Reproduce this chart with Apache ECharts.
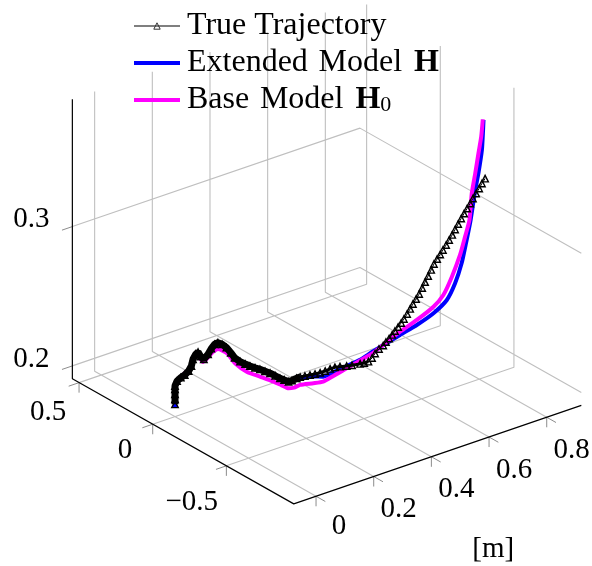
<!DOCTYPE html>
<html>
<head>
<meta charset="utf-8">
<style>
  html, body { margin: 0; padding: 0; background: #fff; }
  #chart { width: 592px; height: 566px; }
</style>
<script src="https://cdn.jsdelivr.net/npm/echarts@6/dist/echarts.min.js"></script>
</head>
<body>
<div id="chart"></div>
<script>
// axis limits and ticks
var xRange = [-0.0773, 0.92];
var yRange = [-0.9575, 0.5455];
var zRange = [0.1907, 0.3915];
var xTicks = [0, 0.2, 0.4, 0.6, 0.8];
var yTicks = [-0.5, 0, 0.5];
var zTicks = [0.2, 0.3];
var xTickLabels = ['0', '0.2', '0.4', '0.6', '0.8'];
var yTickLabels = ['\u22120.5', '0', '0.5'];
var zTickLabels = ['0.2', '0.3'];

// true trajectory
var trueX = [0, 0, 0, 0, 0, 0.005, 0.015, 0.025, 0.035, 0.042, 0.046, 0.053, 0.059, 0.066, 0.074, 0.085, 0.093, 0.102, 0.110, 0.121, 0.132, 0.143, 0.153, 0.167, 0.180, 0.192, 0.205, 0.218, 0.231, 0.244, 0.257, 0.269, 0.280, 0.291, 0.300, 0.312, 0.321, 0.333, 0.346, 0.359, 0.372, 0.385, 0.398, 0.410, 0.423, 0.440, 0.454, 0.475, 0.485, 0.496, 0.505, 0.513, 0.523, 0.534,
  0.541, 0.549, 0.557, 0.564, 0.572, 0.580, 0.587, 0.595, 0.603, 0.610, 0.618, 0.626, 0.634, 0.641, 0.649, 0.657, 0.664, 0.672, 0.680, 0.687, 0.695, 0.703, 0.711, 0.718, 0.726, 0.734, 0.741, 0.749, 0.757, 0.764, 0.772, 0.780, 0.787, 0.795];
var trueY = [0, 0, 0, 0, 0, -0.004, -0.010, -0.017, -0.024, -0.029, -0.032, -0.037, -0.041, -0.045, -0.051, -0.058, -0.064, -0.070, -0.076, -0.083, -0.091, -0.099, -0.106, -0.115, -0.124, -0.133, -0.142, -0.150, -0.159, -0.168, -0.177, -0.186, -0.193, -0.201, -0.207, -0.215, -0.221, -0.230, -0.239, -0.248, -0.257, -0.266, -0.274, -0.283, -0.292, -0.304, -0.313, -0.327, -0.335, -0.342, -0.349, -0.354, -0.361, -0.368,
  -0.373, -0.379, -0.384, -0.389, -0.395, -0.400, -0.405, -0.411, -0.416, -0.421, -0.427, -0.432, -0.437, -0.443, -0.448, -0.453, -0.458, -0.464, -0.469, -0.474, -0.480, -0.485, -0.490, -0.496, -0.501, -0.506, -0.512, -0.517, -0.522, -0.527, -0.533, -0.538, -0.543, -0.549];
var trueZ = [0.1995, 0.2031, 0.2067, 0.2103, 0.2127, 0.2161, 0.2182, 0.2198, 0.2224, 0.2258, 0.2305, 0.2339, 0.2353, 0.2318, 0.2296, 0.2329, 0.2367, 0.2396, 0.2405, 0.2390, 0.2363, 0.2323, 0.2284, 0.2252, 0.2231, 0.2213, 0.2197, 0.2182, 0.2164, 0.2146, 0.2124, 0.2102, 0.2087, 0.2071, 0.2077, 0.2089, 0.2096, 0.2100, 0.2103, 0.2106, 0.2112, 0.2120, 0.2131, 0.2139, 0.2140, 0.2140, 0.2141, 0.2144, 0.2148, 0.2154, 0.2178, 0.2208, 0.2237, 0.2259,
  0.2282, 0.2305, 0.2328, 0.2354, 0.2381, 0.2407, 0.2433, 0.2467, 0.2501, 0.2534, 0.2568, 0.2601, 0.2642, 0.2683, 0.2724, 0.2765, 0.2805, 0.2839, 0.2869, 0.2899, 0.2933, 0.2966, 0.3000, 0.3037, 0.3074, 0.3111, 0.3145, 0.3179, 0.3212, 0.3246, 0.3280, 0.3313, 0.3347, 0.3380];

// extended model H
var extX = [0, 0, 0.025, 0.042, 0.053, 0.059, 0.074, 0.093, 0.110, 0.132, 0.153, 0.192, 0.244, 0.291, 0.321, 0.354, 0.380, 0.398, 0.440, 0.475, 0.505, 0.539, 0.577, 0.620, 0.663, 0.697, 0.718, 0.735, 0.746, 0.758, 0.770, 0.778, 0.787, 0.790, 0.791];
var extY = [0, 0, -0.017, -0.029, -0.037, -0.041, -0.051, -0.064, -0.076, -0.091, -0.106, -0.133, -0.168, -0.201, -0.221, -0.244, -0.262, -0.274, -0.304, -0.327, -0.349, -0.372, -0.398, -0.428, -0.457, -0.481, -0.496, -0.507, -0.515, -0.523, -0.531, -0.537, -0.543, -0.545, -0.546];
var extZ = [0.1969, 0.2127, 0.2198, 0.2258, 0.2339, 0.2353, 0.2296, 0.2367, 0.2405, 0.2363, 0.2284, 0.2213, 0.2146, 0.2071, 0.2089, 0.2090, 0.2081, 0.2095, 0.2140, 0.2173, 0.2221, 0.2268, 0.2322, 0.2381, 0.2452, 0.2537, 0.2651, 0.2789, 0.2930, 0.3093, 0.3305, 0.3423, 0.3588, 0.3730, 0.3802];

// base model H0
var baseX = [0, 0, 0.008, 0.023, 0.038, 0.049, 0.059, 0.072, 0.085, 0.097, 0.110, 0.133, 0.154, 0.184, 0.218, 0.252, 0.272, 0.291, 0.305, 0.321, 0.355, 0.380, 0.406, 0.440, 0.475, 0.509, 0.539, 0.577, 0.620, 0.663, 0.688, 0.710, 0.731, 0.744, 0.755, 0.761, 0.770, 0.778, 0.785, 0.789];
var baseY = [0, 0, -0.005, -0.016, -0.027, -0.034, -0.041, -0.050, -0.058, -0.067, -0.076, -0.092, -0.106, -0.127, -0.150, -0.174, -0.188, -0.201, -0.211, -0.221, -0.245, -0.262, -0.280, -0.304, -0.327, -0.351, -0.372, -0.398, -0.428, -0.457, -0.475, -0.490, -0.504, -0.513, -0.521, -0.525, -0.531, -0.537, -0.542, -0.545];
var baseZ = [0.2005, 0.2127, 0.2167, 0.2206, 0.2245, 0.2313, 0.2325, 0.2278, 0.2306, 0.2342, 0.2360, 0.2322, 0.2244, 0.2175, 0.2129, 0.2083, 0.2053, 0.2024, 0.2025, 0.2039, 0.2041, 0.2045, 0.2078, 0.2123, 0.2168, 0.2215, 0.2273, 0.2345, 0.2417, 0.2499, 0.2576, 0.2701, 0.2850, 0.2978, 0.3094, 0.3284, 0.3425, 0.3566, 0.3683, 0.3807];

var serifFont = '"Liberation Serif", serif';

// orthographic view of the box onto the page
function project(x, y, z) {
  return [
    175 + 288.35 * x - 147.3 * y,
    416.6 - 98.75 * x - 83.2 * y - 1393 * (z - zRange[0])
  ];
}

function path(xs, ys, zs) {
  return xs.map(function (x, i) {
    return project(x, ys[i], zs[i]);
  });
}

// polylines split by null gaps, for the line series below
function polylines(list) {
  var out = [];
  list.forEach(function (pts) {
    pts.forEach(function (p) {
      out.push(project(p[0], p[1], p[2]));
    });
    out.push([null, null]);
  });
  return out;
}

var xMin = xRange[0], xMax = xRange[1];
var yMin = yRange[0], yMax = yRange[1];
var zMin = zRange[0], zMax = zRange[1];
var xExt = 0.036, yExt = 0.063, zExt = 0.0072;

var gridLines = [], tickLines = [];
xTicks.forEach(function (x) {
  gridLines.push([[x, yMin, zMin], [x, yMax, zMin], [x, yMax, zMax]]);
  tickLines.push([[x, yMin - yExt, zMin], [x, yMin, zMin], [x, yMin, zMin - zExt]]);
});
yTicks.forEach(function (y) {
  gridLines.push([[xMin, y, zMin], [xMax, y, zMin], [xMax, y, zMax]]);
  tickLines.push([[xMin - xExt, y, zMin], [xMin, y, zMin], [xMin, y, zMin - zExt]]);
});
zTicks.forEach(function (z) {
  gridLines.push([[xMin, yMax, z], [xMax, yMax, z], [xMax, yMin, z]]);
  tickLines.push([[xMin - xExt, yMax, z], [xMin, yMax, z]]);
});

var axisLines = [[[xMin, yMax, zMax], [xMin, yMax, zMin], [xMin, yMin, zMin], [xMax, yMin, zMin]]];

function lineSeries(name, data, color, width) {
  return {
    name: name,
    type: 'line',
    data: data,
    silent: true,
    symbol: 'none',
    connectNulls: false,
    clip: false,
    lineStyle: {color: color, width: width}
  };
}

function label(text, p, offset) {
  return {
    value: p,
    name: text,
    label: {offset: offset}
  };
}

var xOffsets = [[23, 30], [25, 33], [25, 33], [25, 33], [25, 33]];
var yOffsets = [[-34.6, 36.7], [-27.7, 25.7], [-31, 30]];
var zOffsets = [[-41, -7], [-41, -7]];

var labels = [];
xTicks.forEach(function (x, i) {
  labels.push(label(xTickLabels[i], project(x, yMin, zMin), xOffsets[i]));
});
yTicks.forEach(function (y, i) {
  labels.push(label(yTickLabels[i], project(xMin, y, zMin), yOffsets[i]));
});
zTicks.forEach(function (z, i) {
  labels.push(label(zTickLabels[i], project(xMin, yMax, z), zOffsets[i]));
});
labels.push(label('[m]', project(0.5, yMin, zMin), [33, 103]));

var truePath = path(trueX, trueY, trueZ);

var chart = echarts.init(document.getElementById('chart'));
chart.setOption({
  animation: false,
  backgroundColor: '#fff',
  grid: {left: 0, right: 0, top: 0, bottom: 0},
  xAxis: {type: 'value', min: 0, max: 592, show: false},
  yAxis: {type: 'value', min: 0, max: 566, inverse: true, show: false},
  legend: {
    orient: 'vertical',
    left: 132,
    top: 10,
    padding: 0,
    itemWidth: 46,
    itemHeight: 8,
    itemGap: 5,
    data: [
      {name: 'True Trajectory', lineStyle: {color: '#000', width: 1.2}, itemStyle: {borderColor: '#333', borderWidth: 1}},
      {name: 'Extended Model H', lineStyle: {width: 4}, itemStyle: {opacity: 0}},
      {name: 'Base Model H0', lineStyle: {width: 4}, itemStyle: {opacity: 0}}
    ],
    formatter: function (name) {
      if (name === 'Extended Model H') {
        return 'Extended \u200AModel{b|H}';
      }
      if (name === 'Base Model H0') {
        return 'Base \u200AModel{b|H}{s|0}';
      }
      return name;
    },
    textStyle: {
      fontFamily: serifFont,
      fontSize: 32,
      color: '#000',
      lineHeight: 32,
      padding: [0, 0, 0, 2],
      rich: {
        b: {fontFamily: serifFont, fontSize: 32, fontWeight: 'bold', color: '#000', padding: [0, 0, 0, 12], lineHeight: 32},
        s: {fontFamily: serifFont, fontSize: 22, color: '#000', padding: [10, 0, 0, 0], lineHeight: 32}
      }
    }
  },
  series: [
    lineSeries('grid', polylines(gridLines), '#bfbfbf', 1.1),
    lineSeries('ticks', polylines(tickLines), '#8c8c8c', 1),
    lineSeries('axes', polylines(axisLines), '#000', 1.2),
    {
      name: 'Extended Model H',
      type: 'line',
      data: path(extX, extY, extZ),
      symbol: 'none',
      smooth: 0.2,
      clip: false,
      color: '#0000ff',
      lineStyle: {color: '#0000ff', width: 4}
    },
    {
      name: 'Base Model H0',
      type: 'line',
      data: path(baseX, baseY, baseZ),
      symbol: 'none',
      smooth: 0.2,
      clip: false,
      color: '#ff00ff',
      lineStyle: {color: '#ff00ff', width: 4}
    },
    // the marks of the true trajectory merge into a band where they crowd
    lineSeries('true band', truePath.slice(0, 37), '#000', 7),
    lineSeries('true band thin', truePath.slice(36, 50), '#000', 3),
    {
      name: 'True Trajectory',
      type: 'line',
      data: truePath,
      symbol: 'triangle',
      symbolSize: 6.5,
      showSymbol: true,
      showAllSymbol: true,
      clip: false,
      lineStyle: {color: '#000', width: 1},
      itemStyle: {color: 'rgba(0,0,0,0)', borderColor: '#000', borderWidth: 1.4}
    },
    {
      name: 'labels',
      type: 'scatter',
      data: labels,
      silent: true,
      symbolSize: 1,
      itemStyle: {color: 'rgba(0,0,0,0)', opacity: 1},
      label: {
        show: true,
        position: 'inside',
        formatter: '{b}',
        fontFamily: serifFont,
        fontSize: 29,
        color: '#000',
        textBorderWidth: 0,
        align: 'center',
        verticalAlign: 'middle'
      }
    }
  ]
});
</script>
</body>
</html>
